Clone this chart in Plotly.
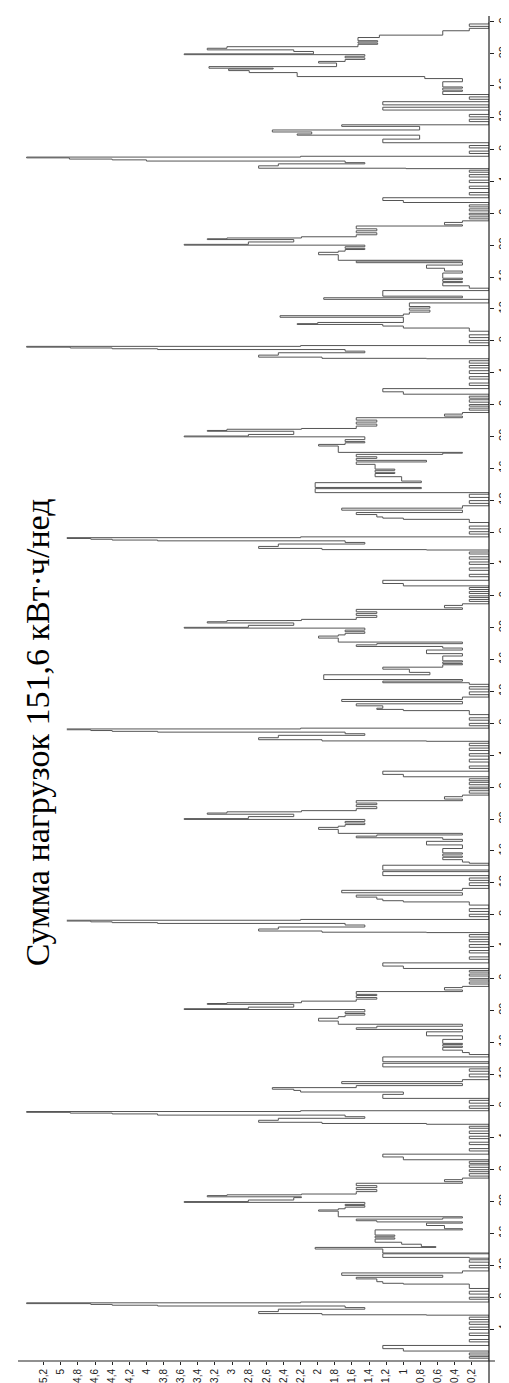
import plotly.graph_objects as go

# ---- data: step breakpoints (hour of day, load kW) ----
day1 = [(0.0,0.0),(0.35,0.23),(0.55,0.0),(0.75,0.23),(1.0,0.0),(1.25,1.0),(1.55,1.24),(1.95,0.0),
        (2.4,0.23),(2.7,0.0),(3.2,0.23),(3.5,0.0),(3.95,0.23),(4.25,0.0),(4.6,0.23),(4.9,0.0),(5.2,0.23),(5.5,0.0),
        (5.75,0.73),(5.8,1.95),(5.95,2.69),(6.2,2.46),(6.5,1.45),(6.7,1.68),(6.9,3.87),(7.0,4.4),(7.1,4.65),(7.2,5.4),(7.3,2.2),(7.4,0.0),
        (7.75,0.23),(8.0,0.0),(8.4,0.23),(8.75,0.0),(9.1,0.23),(9.65,1.0),(9.75,1.24),(9.95,1.31),(10.3,1.55),(10.5,0.54),(10.75,1.72),(11.05,0.31),(11.3,0.0),
        (11.7,0.23),(12.0,0.0),(12.4,0.23),(12.7,0.0),(12.9,0.23),(13.0,1.24),(13.45,0.0),(13.55,1.24),(14.05,2.03),(14.25,0.62),(14.35,0.79),(14.65,1.02),(14.9,1.33),(15.3,1.1),(15.45,1.33),(15.65,1.1),(15.8,1.33),
        (16.45,0.31),(16.6,0.52),(17.0,0.73),(17.3,0.31),(17.45,1.31),(17.6,1.55),(17.8,0.54),(17.95,0.31),(18.1,1.76),(18.8,1.99),(18.95,1.76),(19.1,1.68),(19.3,1.45),(19.5,1.68),(19.65,1.45),
        (19.9,3.56),(20.0,2.81),(20.2,2.28),(20.5,2.19),(20.6,3.29),(20.75,3.06),(20.85,2.19),(20.95,1.55),(21.25,1.31),(21.5,1.55),(21.75,1.31),(22.0,1.55),(22.3,0.31),(22.5,0.52),(22.75,0.31),(22.95,0.0),(23.2,0.23),(23.5,0.0),(23.75,0.23)]

day2 = [(0.0,0.0),(0.3,0.23),(0.6,0.0),(0.8,0.23),(1.05,0.0),(1.25,1.0),(1.6,1.24),(1.95,0.0),
        (2.35,0.23),(2.65,0.0),(3.15,0.23),(3.45,0.0),(3.9,0.23),(4.2,0.0),(4.55,0.23),(4.85,0.0),(5.2,0.23),(5.45,0.0),
        (5.7,0.73),(5.8,1.95),(5.95,2.69),(6.2,2.46),(6.45,1.45),(6.65,1.68),(6.85,3.87),(7.0,4.4),(7.1,4.89),(7.2,5.4),(7.3,2.2),(7.4,0.0),
        (7.7,0.23),(8.0,0.0),(8.35,0.23),(8.7,0.0),(8.95,1.24),(9.45,1.0),(9.75,2.2),(9.95,2.28),(10.1,2.53),(10.3,1.55),(10.55,0.31),(10.8,1.72),(11.05,0.31),(11.3,0.0),
        (11.65,0.23),(12.0,0.0),(12.35,0.23),(12.65,0.0),(12.9,1.24),(13.35,0.0),(13.55,1.24),(14.15,0.0),(14.45,0.23),(14.7,0.31),
        (15.0,0.54),(15.35,0.31),(15.5,0.54),(15.7,0.31),(15.85,0.54),(16.35,0.31),(16.8,0.73),(17.3,0.31),(17.6,1.55),(17.8,1.31),(18.0,0.31),(18.25,1.76),(18.65,1.99),(19.0,1.76),(19.2,1.68),(19.4,1.45),(19.6,1.68),(19.8,1.45),
        (20.1,3.56),(20.2,2.81),(20.4,2.28),(20.75,3.29),(20.85,3.06),(20.95,2.19),(21.15,1.55),(21.4,1.31),(21.6,1.55),(21.85,1.31),(22.0,1.55),(22.35,0.31),(22.55,0.52),(22.85,0.31),(23.0,0.0),(23.3,0.23),(23.55,0.0),(23.8,0.23)]

day3 = [(0.0,0.0),(0.3,0.23),(0.55,0.0),(0.8,0.23),(1.0,0.0),(1.25,1.0),(1.55,1.24),(1.95,0.0),
        (2.4,0.23),(2.7,0.0),(3.2,0.23),(3.5,0.0),(3.9,0.23),(4.25,0.0),(4.6,0.23),(4.9,0.0),(5.2,0.23),(5.5,0.0),
        (5.75,0.73),(5.8,1.95),(5.95,2.69),(6.2,2.46),(6.45,1.45),(6.7,1.68),(6.9,3.87),(7.0,4.4),(7.1,4.65),(7.2,5.4),(7.3,2.2),(7.4,0.0),
        (7.75,0.23),(8.05,0.0),(8.4,0.23),(8.75,0.0),(9.2,0.23),(9.6,1.0),(9.75,1.24),(9.95,1.31),(10.2,1.55),(10.45,0.31),(10.75,1.72),(11.05,0.31),(11.3,0.0),
        (11.65,0.23),(12.0,0.0),(12.3,0.23),(12.6,0.0),(12.9,1.24),(13.4,0.0),(13.6,1.24),(14.2,0.0),(14.45,0.23),(14.6,0.31),
        (14.9,0.54),(15.2,0.31),(15.35,0.54),(15.6,0.31),(15.75,0.54),(16.3,0.31),(16.75,0.73),(17.2,0.31),(17.45,0.54),(17.65,1.55),(17.85,1.31),(18.0,0.31),(18.2,1.76),(18.7,1.99),(18.95,1.76),(19.1,1.68),(19.3,1.45),(19.5,1.68),(19.7,1.45),
        (19.95,3.56),(20.05,2.81),(20.3,2.28),(20.6,3.29),(20.75,3.06),(20.9,2.19),(21.05,1.55),(21.3,1.31),(21.55,1.55),(21.8,1.31),(22.0,1.55),(22.3,0.31),(22.5,0.52),(22.8,0.31),(23.0,0.0),(23.25,0.23),(23.55,0.0),(23.8,0.23)]

day4 = [(0.0,0.0),(0.3,0.23),(0.6,0.0),(0.8,0.23),(1.05,0.0),(1.3,1.0),(1.6,1.24),(2.0,0.0),
        (2.35,0.23),(2.65,0.0),(3.15,0.23),(3.5,0.0),(3.9,0.23),(4.2,0.0),(4.6,0.23),(4.9,0.0),(5.2,0.23),(5.5,0.0),
        (5.75,0.73),(5.8,1.95),(5.95,2.69),(6.2,2.46),(6.5,1.45),(6.7,1.68),(6.9,3.87),(7.0,4.4),(7.1,4.65),(7.2,5.4),(7.3,2.2),(7.4,0.0),
        (7.7,0.23),(8.0,0.0),(8.4,0.23),(8.7,0.0),(9.1,0.23),(9.6,1.0),(9.75,1.31),(9.9,1.24),(10.2,1.55),(10.45,0.31),(10.75,1.72),(11.0,0.31),(11.3,0.0),
        (11.6,0.23),(11.95,0.0),(12.3,0.23),(12.6,0.0),(12.9,0.23),(13.1,1.24),(13.3,0.31),(13.5,1.93),(14.1,0.69),(14.4,0.93),(14.8,1.24),(15.05,0.54),
        (15.35,0.31),(15.5,0.54),(15.7,0.31),(15.85,0.54),(16.45,0.31),(16.75,0.73),(17.2,0.31),(17.45,0.54),(17.65,1.55),(17.85,1.31),(18.0,0.31),(18.2,1.76),(18.7,1.99),(18.95,1.76),(19.1,1.68),(19.3,1.45),(19.5,1.68),(19.7,1.45),
        (19.95,3.56),(20.05,2.81),(20.3,2.28),(20.6,3.29),(20.75,3.06),(20.9,2.19),(21.05,1.55),(21.3,1.31),(21.55,1.55),(21.8,1.31),(22.0,1.55),(22.3,0.31),(22.5,0.52),(22.8,0.31),(23.0,0.0),(23.3,0.23),(23.55,0.0),(23.8,0.23)]

day5 = [(0.0,0.0),(0.3,0.23),(0.55,0.0),(0.8,0.23),(1.05,0.0),(1.25,1.0),(1.55,1.24),(1.95,0.0),
        (2.4,0.23),(2.7,0.0),(3.2,0.23),(3.5,0.0),(3.95,0.23),(4.25,0.0),(4.6,0.23),(4.9,0.0),(5.25,0.23),(5.5,0.0),
        (5.75,0.73),(5.8,1.95),(5.95,2.69),(6.2,2.46),(6.5,1.45),(6.7,1.68),(6.9,3.87),(7.0,4.4),(7.1,4.65),(7.2,5.4),(7.3,2.2),(7.4,0.0),
        (7.75,0.23),(8.05,0.0),(8.4,0.23),(8.75,0.0),(9.2,0.23),(9.6,1.0),(9.75,1.24),(9.9,1.31),(10.2,1.55),(10.45,0.31),(10.75,1.72),(11.0,0.31),(11.3,0.0),
        (11.6,0.23),(11.95,0.0),(12.35,0.23),(12.75,0.0),(12.95,2.03),(13.45,0.79),(13.6,2.03),(14.2,0.79),(14.4,1.02),(14.95,1.33),(15.35,1.1),(15.5,1.33),(15.75,1.1),(15.9,1.33),
        (16.5,1.55),(16.8,0.73),(17.0,1.55),(17.25,1.31),(17.45,1.55),(17.75,0.54),(17.9,0.31),(18.0,1.76),(18.8,1.99),(19.0,1.68),(19.2,1.45),(19.35,1.68),(19.6,1.45),
        (19.95,3.56),(20.05,2.81),(20.25,2.28),(20.65,3.29),(20.75,3.06),(20.9,2.19),(21.0,1.55),(21.3,1.31),(21.55,1.55),(21.8,1.31),(22.05,1.55),(22.35,0.31),(22.55,0.52),(22.8,0.31),(23.0,0.0),(23.3,0.23),(23.55,0.0),(23.8,0.23)]

day6 = [(0.0,0.0),(0.3,0.23),(0.6,0.0),(0.8,0.23),(1.05,0.0),(1.3,1.0),(1.6,1.24),(2.0,0.0),
        (2.4,0.23),(2.7,0.0),(3.2,0.23),(3.5,0.0),(3.9,0.23),(4.25,0.0),(4.6,0.23),(4.9,0.0),(5.2,0.23),(5.5,0.0),
        (5.75,0.73),(5.8,1.95),(5.95,2.69),(6.2,2.46),(6.5,1.45),(6.7,1.68),(6.9,3.87),(7.0,4.4),(7.1,4.89),(7.2,5.4),(7.3,2.2),(7.4,0.0),
        (7.75,0.23),(8.05,0.0),(8.4,0.23),(8.75,0.0),(9.2,0.23),(9.6,1.0),(9.85,1.24),(10.05,2.24),(10.15,2.0),(10.3,1.0),(10.95,2.44),(11.15,1.0),(11.35,0.93),
        (11.6,0.69),(11.85,0.93),(12.1,0.69),(12.3,0.93),(12.75,0.0),(13.2,1.93),(13.4,0.31),(13.6,1.24),(14.3,0.0),(14.6,0.23),(14.9,0.54),
        (15.3,0.31),(15.45,0.54),(15.7,0.31),(15.85,0.54),(16.5,0.31),(16.75,0.52),(17.1,0.73),(17.5,0.31),(17.8,1.55),(18.0,0.31),(18.1,1.76),(18.8,1.99),(19.1,1.76),(19.25,1.68),(19.45,1.45),(19.6,1.68),(19.8,1.45),
        (20.0,3.56),(20.1,2.81),(20.4,2.28),(20.7,3.29),(20.8,3.06),(20.9,2.19),(21.05,1.55),(21.3,1.31),(21.55,1.55),(21.8,1.31),(22.05,1.55),(22.4,0.31),(22.55,0.52),(22.85,0.31),(23.05,0.0),(23.3,0.23),(23.55,0.0),(23.8,0.23)]

day7 = [(0.0,0.0),(0.3,0.23),(0.55,0.0),(0.8,0.23),(1.05,0.0),(1.35,1.0),(1.6,1.24),(1.95,0.0),
        (2.3,0.23),(2.6,0.0),(3.1,0.23),(3.4,0.0),(3.85,0.23),(4.15,0.0),(4.55,0.23),(4.85,0.0),(5.15,0.23),(5.4,0.0),
        (5.6,0.97),(5.65,2.69),(5.95,2.46),(6.2,1.45),(6.35,1.68),(6.55,4.0),(6.7,4.4),(6.8,4.9),(6.95,5.4),(7.05,2.2),(7.15,0.0),
        (7.5,0.23),(7.8,0.0),(8.2,0.23),(8.5,0.0),(8.85,1.24),(9.3,0.81),(9.8,2.24),(9.95,2.07),(10.2,2.53),(10.45,0.81),(10.9,1.72),(11.1,0.0),
        (11.5,0.23),(11.8,0.0),(12.1,0.23),(12.4,0.0),(12.95,1.24),(13.3,0.0),(13.6,1.24),(14.0,0.0),(14.3,0.23),(14.6,0.0),(14.9,0.54),
        (15.3,0.31),(15.45,0.54),(15.7,0.31),(15.85,0.54),(16.5,0.31),(16.9,0.75),(17.15,2.24),(17.65,2.8),(17.9,3.04),(18.1,2.52),(18.2,3.27),(18.4,1.78),(18.85,1.99),(19.05,1.68),(19.3,1.45),(19.5,1.68),(19.7,1.45),
        (19.9,3.56),(20.0,2.05),(20.3,2.28),(20.5,3.29),(20.7,3.06),(20.9,1.53),(21.2,1.3),(21.35,1.53),(21.5,1.3),(21.65,1.53),(22.05,1.28),(22.35,0.54),(22.9,0.23),(23.2,0.0),(23.45,0.23),(23.75,0.0)]

week_days = [day1, day2, day3, day4, day5, day6, day7]
week_end_hour = 168

value_ticks = [0.2, 0.4, 0.6, 0.8, 1.0, 1.2, 1.4, 1.6, 1.8, 2.0, 2.2, 2.4, 2.6, 2.8, 3.0,
               3.2, 3.4, 3.6, 3.8, 4.0, 4.2, 4.4, 4.6, 4.8, 5.0, 5.2]
value_labels = ["0,2", "0,4", "0,6", "0,8", "1", "1,2", "1,4", "1,6", "1,8", "2", "2,2", "2,4",
                "2,6", "2,8", "3", "3,2", "3,4", "3,6", "3,8", "4", "4,2", "4,4", "4,6", "4,8", "5", "5,2"]
hour_ticks = list(range(4, 169, 4))
hour_labels = [str(h % 24) for h in hour_ticks]

title_text = "Сумма нагрузок 151,6 кВт·ч/нед"

# ---- build the stepped series ----
hours, loads = [], []
for d, day in enumerate(week_days):
    for h, v in day:
        hours.append(24 * d + h)
        loads.append(v)
hours.append(week_end_hour)
loads.append(loads[-1])

W, H = 509, 1383
L, R, T, B = 10, 26, 8, 27
plot_w = W - L - R
plot_h = H - T - B


def px_x(x):
    return (x - L) / plot_w


def px_y(y):
    return (H - B - y) / plot_h


fig = go.Figure()
fig.add_trace(go.Scatter(
    x=loads, y=hours, mode="lines",
    line=dict(shape="vh", color="#555555", width=1),
    hoverinfo="skip", showlegend=False,
))

fig.update_layout(
    width=W, height=H,
    margin=dict(l=L, r=R, t=T, b=B, pad=0),
    paper_bgcolor="white", plot_bgcolor="white",
    showlegend=False,
    xaxis=dict(
        range=[5.5, 0], tickmode="array", tickvals=value_ticks, ticktext=value_labels,
        tickangle=-90, ticks="outside", ticklen=3, tickcolor="#222", tickwidth=1,
        showgrid=False, zeroline=False, showline=False,
        tickfont=dict(family="Liberation Sans", size=10, color="#222"),
    ),
    yaxis=dict(
        range=[0, 168.75], side="right", tickmode="array", tickvals=hour_ticks, ticktext=hour_labels,
        tickangle=-90, ticks="outside", ticklen=4, tickcolor="#222", tickwidth=1,
        showgrid=False, zeroline=False, showline=False,
        tickfont=dict(family="Liberation Sans", size=11, color="#222"),
    ),
    shapes=[
        # white box behind the title (covers lines)
        dict(type="rect", xref="paper", yref="paper",
             x0=px_x(0), x1=px_x(59), y0=px_y(1085), y1=px_y(365),
             fillcolor="white", line=dict(width=0), layer="above"),
        # value axis line (at 0 h)
        dict(type="line", xref="paper", yref="paper",
             x0=px_x(10), x1=px_x(489), y0=0, y1=0,
             line=dict(color="#222", width=1.2), layer="above"),
        # time axis line (at 0 kW)
        dict(type="line", xref="paper", yref="paper",
             x0=1, x1=1, y0=px_y(1383), y1=px_y(8),
             line=dict(color="#222", width=1.2), layer="above"),
    ],
    annotations=[
        dict(text=title_text, xref="paper", yref="paper",
             x=px_x(29), y=px_y(726), xanchor="center", yanchor="middle",
             textangle=-90, showarrow=False,
             font=dict(family="Liberation Serif", size=34, color="black")),
    ],
)

fig.write_html("out.html")
